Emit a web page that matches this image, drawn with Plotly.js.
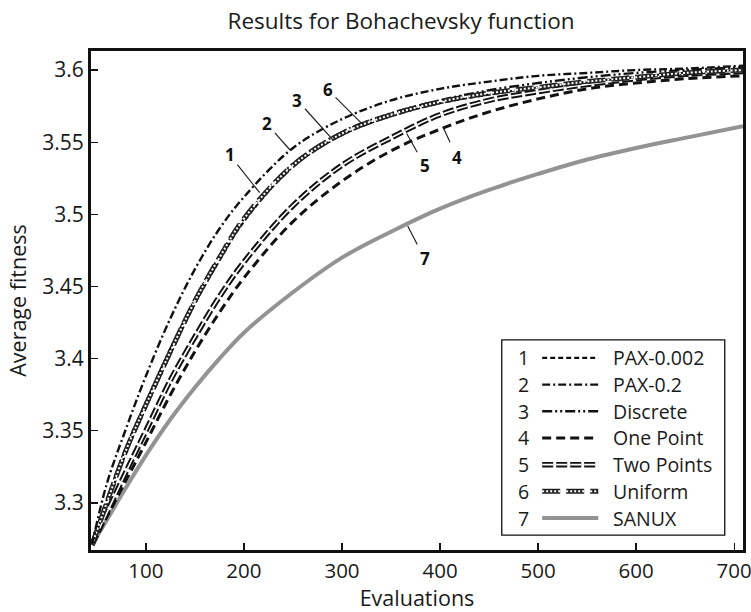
<!DOCTYPE html>
<html>
<head>
<meta charset="utf-8">
<script src="https://cdn.plot.ly/plotly-3.0.1.min.js"></script>
<style>html,body{margin:0;padding:0;background:#fff}#chart{width:751px;height:612px}</style>
</head>
<body>
<div id="chart"></div>
<script>
// ---- data ----
var evaluations = [45, 60, 80, 100, 125, 150, 175, 200, 250, 300, 350, 400, 450, 500, 550, 600, 650, 709];
var pax0002   = [3.271, 3.299, 3.335, 3.366, 3.403, 3.438, 3.468, 3.495, 3.533, 3.555, 3.568, 3.577, 3.583, 3.588, 3.592, 3.595, 3.597, 3.600];
var pax02     = [3.271, 3.313, 3.352, 3.388, 3.428, 3.462, 3.490, 3.512, 3.546, 3.566, 3.579, 3.587, 3.592, 3.596, 3.598, 3.600, 3.601, 3.603];
var discrete  = [3.271, 3.302, 3.339, 3.370, 3.407, 3.441, 3.471, 3.497, 3.535, 3.557, 3.570, 3.579, 3.586, 3.591, 3.595, 3.598, 3.600, 3.602];
var onePoint  = [3.271, 3.290, 3.316, 3.342, 3.375, 3.405, 3.432, 3.456, 3.495, 3.523, 3.544, 3.559, 3.571, 3.580, 3.587, 3.591, 3.594, 3.596];
var twoPoints = [3.271, 3.293, 3.322, 3.350, 3.385, 3.415, 3.443, 3.467, 3.506, 3.534, 3.553, 3.569, 3.579, 3.585, 3.590, 3.594, 3.597, 3.599];
var uniform   = [3.271, 3.300, 3.337, 3.368, 3.405, 3.440, 3.470, 3.497, 3.534, 3.556, 3.569, 3.578, 3.584, 3.588, 3.592, 3.595, 3.598, 3.600];
var sanux     = [3.271, 3.288, 3.311, 3.333, 3.358, 3.380, 3.400, 3.418, 3.446, 3.470, 3.488, 3.504, 3.517, 3.528, 3.538, 3.546, 3.553, 3.561];
var seriesNames = ['PAX-0.002', 'PAX-0.2', 'Discrete', 'One Point', 'Two Points', 'Uniform', 'SANUX'];
var seriesNumbers = ['1', '2', '3', '4', '5', '6', '7'];
var xTicks = [100, 200, 300, 400, 500, 600, 700];
var yTicks = [3.3, 3.35, 3.4, 3.45, 3.5, 3.55, 3.6];
// curve-label anchor points (on the curves)
var labelX = [216, 247, 291, 403, 366, 320, 367];
var labelY = [3.515, 3.5446, 3.5515, 3.5605, 3.556, 3.563, 3.492];

// ---- styles ----
var FONT = '"Open Sans", "Noto Sans", sans-serif';
var styles = [
  [{color: '#111', width: 2.2, dash: '5px,3px'}],
  [{color: '#111', width: 2.4, dash: '8px,3px,2px,3px'}],
  [{color: '#111', width: 2.4, dash: '10px,3px,2px,3px,2px,3px'}],
  [{color: '#111', width: 3, dash: '9px,5px'}],
  [{color: '#111', width: 5.5, dash: '11px,3px'}, {color: '#fff', width: 1.6, dash: '11px,3px'}],
  [{color: '#222', width: 5, dash: '18px,6px'}, {color: '#fff', width: 2, dash: '2px,2px'}],
  [{color: '#939393', width: 4, dash: 'solid'}]
];
var seriesData = [pax0002, pax02, discrete, onePoint, twoPoints, uniform, sanux];
var order = [6, 3, 4, 0, 2, 5, 1];

var traces = [];
order.forEach(function (i) {
  styles[i].forEach(function (st) {
    traces.push({
      x: evaluations, y: seriesData[i], type: 'scatter', mode: 'lines',
      name: seriesNames[i], showlegend: false, hoverinfo: 'skip',
      line: {color: st.color, width: st.width, dash: st.dash, shape: 'spline', smoothing: 1}
    });
  });
});

// ---- custom legend (paper coords) ----
var shapes = [];
var annotations = [];
var lgX0 = 0.630, lgX1 = 0.972, lgY0 = 0.030, lgY1 = 0.421;
shapes.push({type: 'rect', xref: 'paper', yref: 'paper', x0: lgX0, x1: lgX1, y0: lgY0, y1: lgY1,
  line: {color: '#111', width: 1.3}, fillcolor: '#fff', layer: 'above'});
var rowTop = 0.385, rowStep = 0.0535;
for (var i = 0; i < seriesNames.length; i++) {
  var yy = rowTop - i * rowStep;
  styles[i].forEach(function (st) {
    shapes.push({type: 'line', xref: 'paper', yref: 'paper', x0: 0.692, x1: 0.778, y0: yy, y1: yy,
      line: {color: st.color, width: st.width, dash: st.dash}, layer: 'above'});
  });
  annotations.push({xref: 'paper', yref: 'paper', x: 0.663, y: yy, text: seriesNumbers[i], showarrow: false,
    xanchor: 'center', yanchor: 'middle', font: {family: FONT, size: 19.5, color: '#1a1a1a'}});
  annotations.push({xref: 'paper', yref: 'paper', x: 0.797, y: yy, text: seriesNames[i], showarrow: false,
    xanchor: 'left', yanchor: 'middle', font: {family: FONT, size: 19.5, color: '#1a1a1a'}});
}
// curve number labels with leader lines
var offs = [[-30, -38], [-23, -26], [-36, -40], [14, 30], [18, 32], [-34, -34], [17, 33]];
for (var j = 0; j < seriesNumbers.length; j++) {
  annotations.push({x: labelX[j], y: labelY[j], xref: 'x', yref: 'y', text: '<b>' + seriesNumbers[j] + '</b>',
    showarrow: true, arrowhead: 0, arrowwidth: 1.2, arrowcolor: '#222', ax: offs[j][0], ay: offs[j][1],
    standoff: 0, startstandoff: 2, font: {family: FONT, size: 17, color: '#111'}});
}

var layout = {
  width: 751, height: 612,
  margin: {l: 91, r: 8, t: 51, b: 62},
  paper_bgcolor: '#fff', plot_bgcolor: '#fff',
  font: {family: FONT, size: 21, color: '#1a1a1a'},
  title: {text: 'Results for Bohachevsky function', x: 0.4755, xref: 'paper', y: 1 - 21 / 612, yref: 'container',
    yanchor: 'middle', font: {family: FONT, size: 22.5, color: '#1a1a1a'}},
  xaxis: {range: [44, 709], tickvals: xTicks, ticktext: xTicks.map(String), ticks: 'inside', ticklen: 7,
    tickcolor: '#111', tickwidth: 1.3, showline: true, linecolor: '#111', linewidth: 3, mirror: true,
    ticklabeloverflow: 'allow',
    showgrid: false, zeroline: false, tickfont: {family: FONT, size: 20.5, color: '#1a1a1a'},
    title: {text: 'Evaluations', font: {family: FONT, size: 21.5, color: '#1a1a1a'}, standoff: 6}},
  yaxis: {range: [3.2674, 3.6132], tickvals: yTicks, ticktext: yTicks.map(String), ticks: 'inside', ticklen: 7,
    tickcolor: '#111', tickwidth: 1.3, showline: true, linecolor: '#111', linewidth: 3, mirror: true,
    showgrid: false, zeroline: false, tickfont: {family: FONT, size: 21, color: '#1a1a1a'},
    title: {text: 'Average fitness', font: {family: FONT, size: 21.5, color: '#1a1a1a'}, standoff: 10}},
  shapes: shapes,
  annotations: annotations,
  showlegend: false
};

Plotly.newPlot('chart', traces, layout, {displayModeBar: false, staticPlot: true});
</script>
</body>
</html>
